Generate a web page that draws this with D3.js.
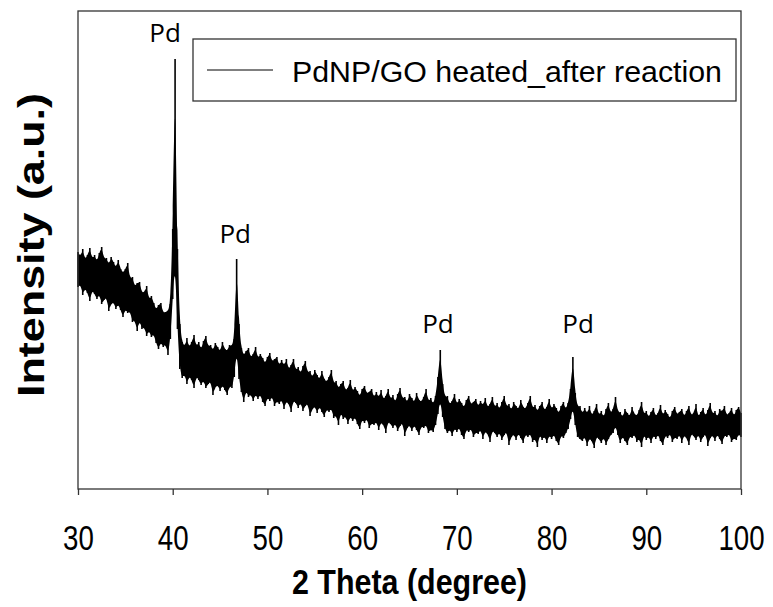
<!DOCTYPE html>
<html>
<head>
<meta charset="utf-8">
<script src="https://cdn.jsdelivr.net/npm/d3@7"></script>
<style>
  body { margin: 0; background: #fff; }
  text { font-family: Arial, "Liberation Sans", sans-serif; fill: #000; }
</style>
</head>
<body>
<script>
// upper / lower edges of the noisy band (arbitrary intensity units)
var traceUpper = [
  237, 232, 240, 229, 234, 241, 230, 234, 227, 236, 242, 230, 231, 224, 232, 227,
  221, 229, 220, 216, 220, 226, 210, 212, 202, 206, 207, 196, 197, 203, 189, 193,
  186, 179, 184, 186, 176, 177, 178, 185, 260, 430, 240, 165, 147, 142, 151, 141,
  147, 154, 142, 147, 139, 148, 153, 142, 144, 138, 146, 142, 137, 147, 140, 138,
  144, 143, 150, 230, 165, 141, 133, 138, 141, 131, 135, 142, 130, 135, 131, 125,
  132, 136, 127, 130, 132, 123, 129, 123, 130, 119, 124, 130, 118, 122, 115, 123,
  128, 116, 118, 111, 119, 114, 109, 118, 110, 107, 112, 119, 105, 108, 100, 105,
  108, 98, 101, 109, 97, 102, 98, 92, 100, 103, 95, 97, 100, 91, 97, 91,
  99, 89, 93, 100, 89, 94, 86, 95, 101, 90, 92, 86, 95, 91, 86, 96,
  89, 87, 92, 100, 87, 91, 84, 93, 112, 139, 105, 92, 93, 84, 88, 95,
  84, 90, 86, 81, 89, 93, 84, 87, 90, 82, 88, 83, 91, 81, 85, 92,
  81, 86, 79, 87, 93, 82, 85, 78, 87, 83, 79, 89, 82, 80, 86, 93,
  80, 84, 77, 83, 87, 78, 82, 90, 79, 85, 81, 75, 83, 87, 79, 86,
  100, 132, 96, 82, 83, 75, 81, 75, 83, 73, 78, 85, 73, 78, 71, 80,
  86, 75, 80, 92, 77, 77, 71, 80, 76, 72, 82, 75, 73, 79, 87, 74,
  78, 71, 77, 81, 72, 76, 84, 73, 79, 75, 70, 78, 82, 74, 77, 80,
  72, 78, 83, 73, 76, 85, 71, 77, 81, 72, 79, 86, 74, 78, 71, 80,
  77, 83, 73, 76, 81, 72, 79, 82, 76
];
var traceLower = [
  202, 205, 194, 201, 196, 188, 199, 195, 190, 195, 185, 189, 192, 178, 185, 187,
  180, 185, 179, 172, 180, 176, 178, 167, 169, 158, 169, 160, 162, 153, 159, 152,
  155, 146, 140, 147, 142, 145, 134, 150, 190, 230, 160, 120, 111, 115, 105, 113,
  109, 101, 113, 109, 104, 109, 101, 105, 108, 94, 102, 104, 98, 104, 99, 94,
  103, 101, 112, 140, 110, 97, 87, 99, 92, 95, 88, 95, 90, 95, 87, 83,
  92, 88, 93, 83, 88, 85, 90, 80, 88, 85, 77, 89, 86, 81, 87, 78,
  83, 86, 73, 80, 83, 76, 83, 77, 72, 80, 77, 81, 71, 74, 64, 77,
  70, 73, 65, 73, 68, 72, 65, 60, 70, 66, 71, 61, 66, 64, 68, 59,
  67, 64, 56, 68, 65, 61, 66, 58, 63, 67, 53, 61, 64, 58, 64, 59,
  54, 63, 61, 65, 56, 60, 57, 64, 75, 90, 72, 60, 56, 60, 53, 61,
  57, 62, 54, 50, 60, 57, 61, 52, 57, 55, 60, 50, 58, 55, 47, 59,
  56, 52, 57, 49, 54, 58, 44, 52, 55, 49, 56, 51, 46, 55, 52, 56,
  47, 51, 42, 55, 49, 53, 46, 54, 50, 55, 48, 44, 54, 51, 56, 60,
  70, 82, 64, 52, 50, 48, 53, 43, 51, 48, 41, 53, 50, 46, 52, 44,
  50, 54, 56, 64, 54, 46, 53, 48, 44, 53, 51, 55, 47, 51, 42, 55,
  49, 53, 46, 54, 50, 55, 48, 44, 54, 51, 56, 47, 52, 50, 55, 46,
  54, 51, 44, 56, 53, 49, 55, 47, 52, 56, 43, 51, 54, 48, 55, 50,
  45, 54, 52, 56, 47, 51, 49, 55, 52
];
var xTicks = [30, 40, 50, 60, 70, 80, 90, 100];
var peakLabels = ['Pd', 'Pd', 'Pd', 'Pd'];
var peakLabelTheta = [39.2, 46.6, 68.0, 82.8];
var peakLabelInt = [447, 246, 156, 156];
var seriesName = 'PdNP/GO heated_after reaction';

var width = 773, height = 607;
var margin = { top: 11, right: 32, bottom: 118, left: 78 };

var svg = d3.select('body').append('svg').attr('width', width).attr('height', height);

var x = d3.scaleLinear().domain([30, 100]).range([margin.left, width - margin.right]);
var y = d3.scaleLinear().domain([0, 478]).range([height - margin.bottom, margin.top]);

var theta = d3.range(traceUpper.length).map(function (i) { return 30 + i * 0.25; });
var trace = theta.map(function (t, i) {
  return { t: t, hi: traceUpper[i], lo: traceLower[i] };
});

// solid core of the noisy trace
svg.append('path')
  .datum(trace)
  .attr('fill', '#000')
  .attr('d', d3.area()
    .curve(d3.curveBasis)
    .x(function (d) { return x(d.t); })
    .y0(function (d) { return y(d.lo); })
    .y1(function (d) { return y(d.hi); }));

// each sample's full excursion, gives the spiky edges
svg.append('g').selectAll('line')
  .data(trace)
  .enter().append('line')
  .attr('x1', function (d) { return x(d.t); })
  .attr('x2', function (d) { return x(d.t); })
  .attr('y1', function (d) { return y(d.lo); })
  .attr('y2', function (d) { return y(d.hi); })
  .attr('stroke', '#000')
  .attr('stroke-width', 1.6);

// frame
svg.append('rect')
  .attr('x', margin.left).attr('y', margin.top)
  .attr('width', width - margin.left - margin.right)
  .attr('height', height - margin.top - margin.bottom)
  .attr('fill', 'none').attr('stroke', '#333').attr('stroke-width', 1.3);

var xAxis = svg.append('g')
  .attr('transform', 'translate(0,' + (height - margin.bottom) + ')')
  .call(d3.axisBottom(x).tickValues(xTicks).tickSize(6).tickFormat(d3.format('d')));
xAxis.select('.domain').remove();
xAxis.selectAll('line').attr('stroke', '#333').attr('stroke-width', 1.3);
xAxis.selectAll('text')
  .attr('y', 0).attr('dy', 0)
  .attr('transform', 'translate(0,61) scale(1,1.18)')
  .attr('font-size', 30).attr('fill', '#000')
  .attr('textLength', function (d) { return String(d).length * 15.4; })
  .attr('lengthAdjust', 'spacingAndGlyphs')
  .style('font-family', 'Arial, "Liberation Sans", sans-serif');

svg.append('text')
  .attr('x', (margin.left + width - margin.right) / 2).attr('y', 594)
  .attr('text-anchor', 'middle').attr('font-size', 35).attr('font-weight', 'bold')
  .attr('textLength', 235).attr('lengthAdjust', 'spacingAndGlyphs')
  .text('2 Theta (degree)');

svg.append('text')
  .attr('transform', 'translate(44,245) rotate(-90) scale(1,0.82)')
  .attr('text-anchor', 'middle').attr('font-size', 44).attr('font-weight', 'bold')
  .attr('textLength', 304).attr('lengthAdjust', 'spacingAndGlyphs')
  .text('Intensity (a.u.)');

// peak labels
svg.selectAll('.pk').data(peakLabelTheta).enter().append('text')
  .attr('class', 'pk')
  .attr('x', function (d) { return x(d); })
  .attr('y', function (d, i) { return y(peakLabelInt[i]); })
  .attr('text-anchor', 'middle')
  .style('font-family', '"Open Sans", "Noto Sans", sans-serif')
  .attr('font-size', 26)
  .text(function (d, i) { return peakLabels[i]; });

// legend
var lg = svg.append('g').attr('transform', 'translate(193,39)');
lg.append('rect').attr('width', 543).attr('height', 62).attr('fill', '#fff').attr('stroke', '#333').attr('stroke-width', 1.3);
lg.append('line').attr('x1', 14).attr('x2', 80).attr('y1', 31).attr('y2', 31).attr('stroke', '#000');
lg.append('text').attr('x', 99).attr('y', 43).attr('font-size', 30)
  .attr('textLength', 430).attr('lengthAdjust', 'spacingAndGlyphs')
  .text(seriesName);
</script>
</body>
</html>
